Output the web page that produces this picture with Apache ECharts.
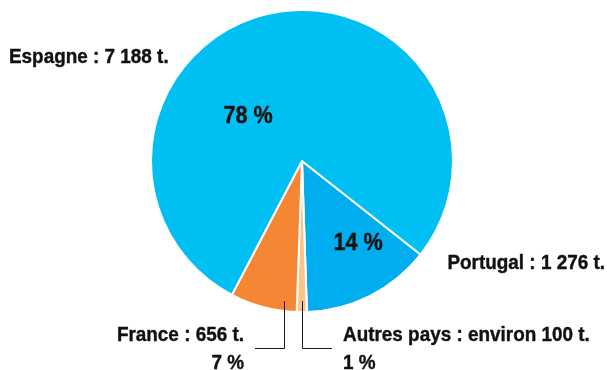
<!DOCTYPE html>
<html>
<head>
<meta charset="utf-8">
<script src="https://cdn.jsdelivr.net/npm/echarts@6/dist/echarts.min.js"></script>
<style>
  html, body { margin: 0; padding: 0; background: #ffffff; }
  #chart { width: 607px; height: 370px; }
</style>
</head>
<body>
<div id="chart"></div>
<script>
// Production par pays (tonnes), listed clockwise around the pie
const countries = ['Portugal', 'Autres pays', 'France', 'Espagne'];
const tonnes = [1276, 100, 656, 7188];
const qualifiers = ['', 'environ ', '', ''];
const colors = ['#00aeef', '#fcc48b', '#f58634', '#00bff2'];

const total = tonnes.reduce((a, b) => a + b, 0);
const pct = v => Math.round(v / total * 100) + ' %';
const fmtT = v => String(v).replace(/\B(?=(\d{3})+(?!\d))/g, ' ') + ' t.';

const FONT = '"Liberation Sans", Arial, sans-serif';
const CX = 302, CY = 161, R = 151;
const INK = '#111111';

// Percentages printed inside the two large slices
const innerSpots = { 'Espagne': [248, 116.5], 'Portugal': [358, 243] };
// Name / tonnage captions around the pie
const outerSpots = {
  'Espagne':     { x: 9,   y: 57,  align: 'left'  },
  'Portugal':    { x: 605, y: 263, align: 'right' },
  'France':      { x: 244, y: 349, align: 'right' },
  'Autres pays': { x: 343, y: 349, align: 'left'  }
};

const sliceData = countries.map((c, i) => ({
  name: c,
  value: tonnes[i],
  itemStyle: { color: colors[i] }
}));

// Condensed bold text, as the captions are set
function caption(text, x, y, align, size) {
  return {
    type: 'text',
    x: x, y: y,
    scaleX: 0.9,
    z: 20,
    silent: true,
    style: {
      text: text,
      fill: INK,
      stroke: INK,
      lineWidth: 0.4,
      font: 'bold ' + size + 'px ' + FONT,
      lineHeight: 28.4,
      align: align,
      verticalAlign: 'middle'
    }
  };
}

const texts = [];
countries.forEach((c, i) => {
  const o = outerSpots[c];
  let head = c + ' : ' + qualifiers[i] + fmtT(tonnes[i]);
  if (!innerSpots[c]) head += '\n' + pct(tonnes[i]);
  texts.push(caption(head, o.x, o.y, o.align, 21));
  if (innerSpots[c]) {
    texts.push(caption(pct(tonnes[i]), innerSpots[c][0], innerSpots[c][1], 'center', 24));
  }
});

const chart = echarts.init(document.getElementById('chart'), null, { renderer: 'canvas' });

chart.setOption({
  animation: false,
  series: [
    {
      type: 'pie',
      center: [CX, CY],
      radius: R,
      startAngle: -38.3,
      clockwise: true,
      silent: true,
      data: sliceData,
      itemStyle: { borderColor: '#ffffff', borderWidth: 2 },
      label: { show: false },
      labelLine: { show: false }
    }
  ],
  graphic: texts.concat([
    // leader lines for the two small slices
    {
      type: 'polyline',
      shape: { points: [[284.5, 301], [284.5, 348.5], [255, 348.5]] },
      style: { stroke: '#1a1a1a', lineWidth: 1, fill: null },
      z: 10
    },
    {
      type: 'polyline',
      shape: { points: [[302.5, 301], [302.5, 348.5], [332, 348.5]] },
      style: { stroke: '#1a1a1a', lineWidth: 1, fill: null },
      z: 10
    }
  ])
});
</script>
</body>
</html>
